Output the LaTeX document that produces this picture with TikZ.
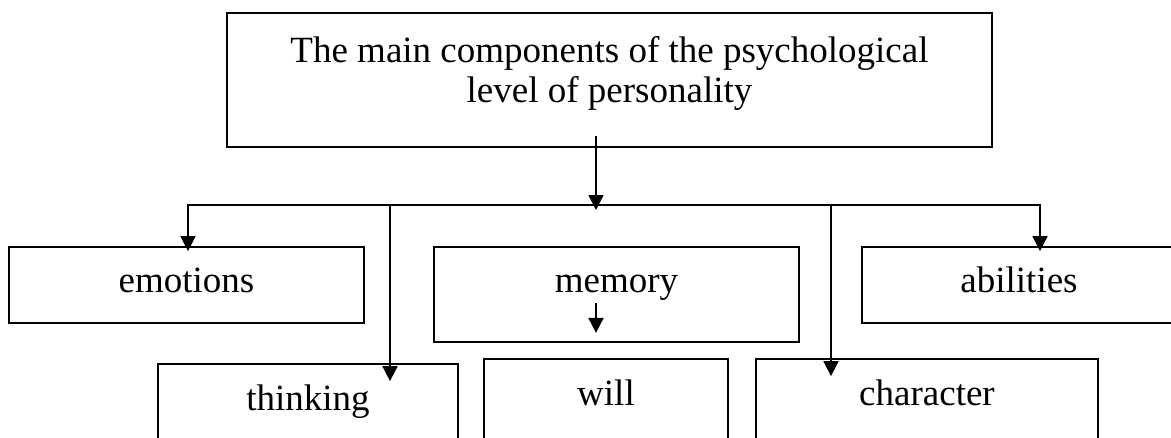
\documentclass[tikz,border=0pt]{standalone}
\usepackage{fontspec}
\setmainfont{Liberation Serif}
\usetikzlibrary{arrows.meta}

\begin{document}
\begin{tikzpicture}[x=1pt,y=-1pt,line width=1.8pt,
  box/.style={draw,rectangle,inner sep=0pt,anchor=base,font=\fontsize{37}{40}\selectfont},
  arr/.style={-{Triangle[width=15pt,length=15pt]}}]
\useasboundingbox (0,0) rectangle (1171,437);
% head box
\node[box,minimum width=765pt,text height=89pt,text depth=45pt,align=center] (top) at (609.5,102) {The main components of the psychological\\level of personality};
% first row
\node[box,minimum width=355pt,text height=45pt,text depth=31pt] (emotions) at (186.5,292) {emotions};
\node[box,minimum width=365pt,text height=45pt,text depth=50pt] (memory) at (616.5,292) {memory};
\node[box,minimum width=314pt,text height=45pt,text depth=31pt] (abilities) at (1019,292) {abilities};
% second row
\node[box,minimum width=300pt,text height=46pt,text depth=35pt] (thinking) at (308,410) {thinking};
\node[box,minimum width=244pt,text height=46pt,text depth=40pt] (will) at (606,405) {will};
\node[box,minimum width=342pt,text height=46pt,text depth=40pt] (character) at (927,405) {character};
% bus points
\coordinate (hub) at (596,205);
\coordinate (bE) at (188,205);
\coordinate (bT) at (390,205);
\coordinate (bC) at (831,205);
\coordinate (bA) at (1040,205);
\coordinate (memout) at (hub |- memory.south);
% connectors
\draw[arr,shorten >=-5pt] ([xshift=-13.5pt,yshift=12pt]top.south) -- (hub);
\draw[arr,shorten >=-5pt] (hub) -| (bE |- emotions.north);
\draw[arr,shorten >=-5pt] (hub) -| (bA |- abilities.north);
\draw[arr,shorten >=-18pt] (bT) -- (bT |- thinking.north);
\draw[arr,shorten >=-18pt] (bC) -- (bC |- character.north);
\draw[arr] ([yshift=40pt]memout) -- ([yshift=10pt]memout);
\end{tikzpicture}
\end{document}
